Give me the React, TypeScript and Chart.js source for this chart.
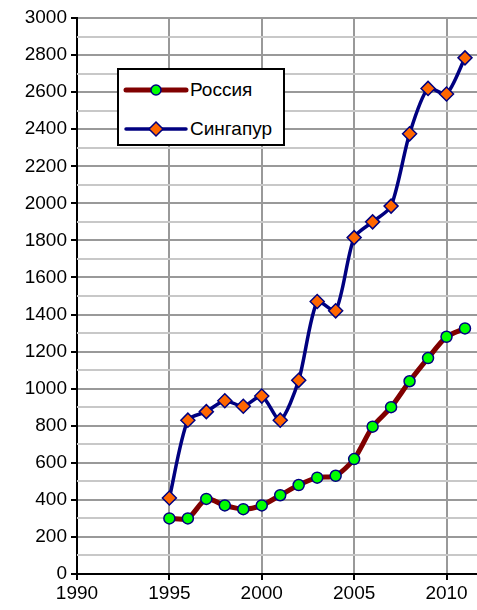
import React, { useEffect, useRef } from "react";
import { Chart, registerables } from "chart.js";

Chart.register(...registerables);

const years = [1995, 1996, 1997, 1998, 1999, 2000, 2001, 2002, 2003, 2004, 2005, 2006, 2007, 2008, 2009, 2010, 2011];
const russia = [300, 300, 405, 370, 350, 370, 425, 480, 520, 530, 620, 795, 900, 1040, 1165, 1280, 1325];
const singapore = [410, 830, 876, 935, 905, 960, 830, 1045, 1470, 1420, 1815, 1900, 1985, 2375, 2620, 2590, 2785];
const seriesNames = ["Россия", "Сингапур"];
const xTickValues = [1990, 1995, 2000, 2005, 2010];
const yMajorTicks = [0, 200, 400, 600, 800, 1000, 1200, 1400, 1600, 1800, 2000, 2200, 2400, 2600, 2800, 3000];
const yMinorTicks = [100, 300, 500, 700, 900, 1100, 1300, 1500, 1700, 1900, 2100, 2300, 2500, 2700, 2900];

const FONT = "'Liberation Sans', Arial, sans-serif";

const minorGridPlugin = {
  id: "minorGrid",
  beforeDatasetsDraw(chart: any) {
    const { ctx, chartArea, scales } = chart;
    const y = scales.y;
    ctx.save();
    ctx.fillStyle = "#c8c8c8";
    yMinorTicks.forEach((v) => {
      const py = Math.round(y.getPixelForValue(v));
      ctx.fillRect(chartArea.left, py - 1, chartArea.right - chartArea.left, 2);
    });
    ctx.restore();
  },
};

export default function App() {
  const ref = useRef<HTMLCanvasElement | null>(null);

  useEffect(() => {
    document.body.style.margin = "0";
    const ctx = ref.current!;
    const chart = new Chart(ctx, {
      type: "line",
      plugins: [minorGridPlugin],
      data: {
        datasets: [
          {
            label: seriesNames[0],
            data: years.map((y, i) => ({ x: y, y: russia[i] })),
            borderColor: "#800000",
            borderWidth: 5,
            tension: 0.25,
            pointStyle: "circle",
            pointRadius: 5.5,
            pointBackgroundColor: "#00ff00",
            pointBorderColor: "#000080",
            pointBorderWidth: 1.5,
          },
          {
            label: seriesNames[1],
            data: years.map((y, i) => ({ x: y, y: singapore[i] })),
            borderColor: "#000080",
            borderWidth: 3.5,
            tension: 0.25,
            pointStyle: "rectRot",
            pointRadius: 7,
            pointBackgroundColor: "#ff6600",
            pointBorderColor: "#000080",
            pointBorderWidth: 1.5,
          },
        ],
      },
      options: {
        animation: false,
        responsive: false,
        maintainAspectRatio: false,
        layout: { autoPadding: false, padding: { top: 18, right: 0, left: 0, bottom: 0 } },
        plugins: { legend: { display: false }, tooltip: { enabled: false } },
        scales: {
          x: {
            type: "linear",
            min: 1990,
            max: 2011.65,
            afterBuildTicks: (s: any) => {
              s.ticks = xTickValues.map((v) => ({ value: v }));
            },
            afterFit: (s: any) => {
              s.height = 36;
              s.paddingRight = 0;
              s.paddingLeft = 0;
            },
            ticks: {
              autoSkip: false,
              color: "#000",
              font: { family: FONT, size: 19 },
              padding: 2,
              maxRotation: 0,
              callback: (v: any) => String(v),
            },
            grid: {
              color: "#999",
              lineWidth: 2,
              tickColor: "#000",
              tickLength: 6,
            },
            border: { color: "#000", width: 2 },
          },
          y: {
            type: "linear",
            min: 0,
            max: 3000,
            afterBuildTicks: (s: any) => {
              s.ticks = yMajorTicks.map((v) => ({ value: v }));
            },
            afterFit: (s: any) => {
              s.width = 77;
            },
            ticks: {
              autoSkip: false,
              color: "#000",
              font: { family: FONT, size: 19 },
              padding: 4,
              callback: (v: any) => String(v),
            },
            grid: {
              color: "#999",
              lineWidth: 2,
              tickColor: "#000",
              tickLength: 6,
            },
            border: { color: "#000", width: 2 },
          },
        },
      },
    });
    return () => chart.destroy();
  }, []);

  const legendRow = (i: number) => (
    <div style={{ display: "flex", alignItems: "center", height: 39 }}>
      <svg width={66} height={20} style={{ marginLeft: 4 }}>
        {i === 0 ? (
          <>
            <line x1={3} y1={10} x2={63} y2={10} stroke="#800000" strokeWidth={5} strokeLinecap="round" />
            <circle cx={33} cy={10} r={5} fill="#00ff00" stroke="#000080" strokeWidth={1.5} />
          </>
        ) : (
          <>
            <line x1={3} y1={10} x2={63} y2={10} stroke="#000080" strokeWidth={3.5} strokeLinecap="round" />
            <polygon points="33,3 40,10 33,17 26,10" fill="#ff6600" stroke="#000080" strokeWidth={1.5} />
          </>
        )}
      </svg>
      <span style={{ fontFamily: FONT, fontSize: 19, color: "#000", marginLeft: 1 }}>{seriesNames[i]}</span>
    </div>
  );

  return (
    <div style={{ position: "absolute", left: 0, top: 0, width: 477, height: 610 }}>
      <canvas ref={ref} width={477} height={610} style={{ width: 477, height: 610, display: "block" }} />
      <div
        style={{
          position: "absolute",
          left: 117,
          top: 68,
          width: 164,
          height: 74,
          border: "2px solid #000",
          background: "#fff",
          boxSizing: "content-box",
        }}
      >
        {legendRow(0)}
        {legendRow(1)}
      </div>
    </div>
  );
}
